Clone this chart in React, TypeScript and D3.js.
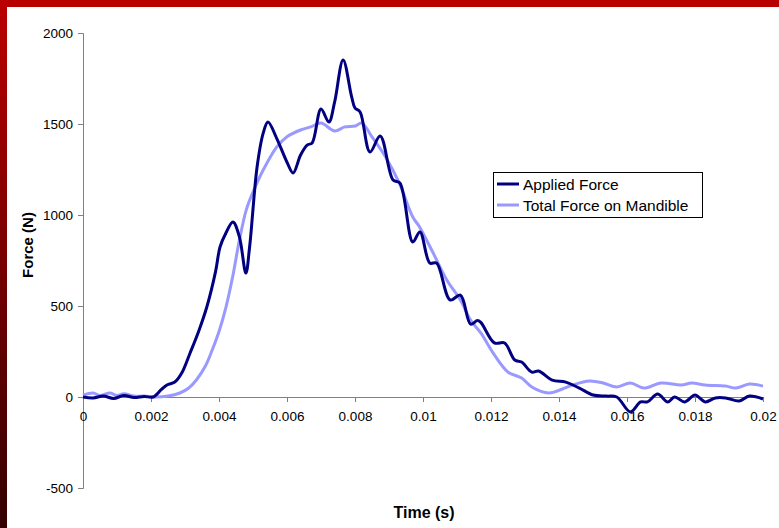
import React, { useEffect, useRef } from 'react';
import * as d3 from 'd3';

// time (s) for each reading of the applied force
const appliedTime = [
  0, 0.0003, 0.0006, 0.0009, 0.0012, 0.0015, 0.0018, 0.00206, 0.0023, 0.00247,
  0.0027, 0.0029, 0.00315, 0.0034, 0.00365, 0.0039, 0.00403, 0.0042, 0.00441, 0.0046,
  0.00479, 0.0049, 0.00512, 0.0053, 0.00544, 0.0057, 0.006, 0.00618, 0.0064, 0.0066,
  0.00674, 0.007, 0.00723, 0.0074, 0.00765, 0.0079, 0.008, 0.00815, 0.00844, 0.00874,
  0.00912, 0.00932, 0.0097, 0.00991, 0.0102, 0.0104, 0.0108, 0.0111, 0.0114, 0.0116,
  0.0117, 0.0121, 0.0124, 0.0127, 0.0129, 0.0132, 0.0134, 0.0138, 0.0142, 0.0146,
  0.015, 0.0154, 0.0157, 0.0161, 0.0164, 0.0166, 0.0169, 0.0172, 0.0174, 0.0177,
  0.018, 0.0183, 0.0186, 0.0189, 0.0193, 0.0196, 0.02
];
const appliedForce = [
  0, -5, 5, -8, 8, -3, 3, 0, 40, 66,
  82, 130, 242, 360, 500, 690, 824, 900, 962, 880,
  681, 824, 1264, 1450, 1511, 1420, 1290, 1231, 1330, 1385,
  1396, 1582, 1511, 1620, 1852, 1650, 1588, 1566, 1346, 1434,
  1192, 1176, 852, 907, 736, 736, 533, 560, 400, 420,
  410, 297, 297, 203, 192, 137, 143, 93, 82, 49,
  11, 5, 0, -82, -27, -27, 16, -27, 0, -27,
  11, -27, -5, -5, -22, 5, -11
];

// time (s) for each reading of the total force on the mandible
const totalTime = [
  0, 0.0003, 0.0005, 0.0008, 0.001, 0.0012, 0.0015, 0.0018, 0.0021, 0.0025,
  0.00285, 0.0031, 0.00334, 0.0036, 0.0038, 0.004, 0.0042, 0.0044, 0.0046, 0.0048,
  0.005, 0.0053, 0.0057, 0.006, 0.0064, 0.0067, 0.007, 0.0074, 0.0077, 0.008,
  0.0082, 0.0085, 0.0089, 0.0093, 0.0097, 0.0099, 0.0103, 0.0107, 0.0111, 0.0114,
  0.0117, 0.0121, 0.0125, 0.0129, 0.0132, 0.0137, 0.0141, 0.0144, 0.0149, 0.0153,
  0.0157, 0.0161, 0.0165, 0.017, 0.0176, 0.0179, 0.0183, 0.0189, 0.0192, 0.0196,
  0.02
];
const totalForce = [
  10, 22, 8, 22, 8, 18, 5, 5, 0, 5,
  22, 48, 95, 170, 258, 360, 490, 659, 862, 1027,
  1126, 1247, 1374, 1430, 1467, 1484, 1505, 1462, 1484, 1489,
  1505, 1429, 1319, 1176, 989, 934, 791, 643, 533, 423,
  352, 231, 137, 104, 55, 22, 44, 66, 88, 77,
  55, 77, 49, 77, 66, 77, 66, 60, 49, 71,
  60
];

const xTicks = [0, 0.002, 0.004, 0.006, 0.008, 0.01, 0.012, 0.014, 0.016, 0.018, 0.02];
const yTicks = [-500, 0, 500, 1000, 1500, 2000];
const seriesNames = ['Applied Force', 'Total Force on Mandible'];
const seriesColors = ['#000080', '#9999ff'];

const App = () => {
  const svgRef = useRef(null);

  useEffect(() => {
    const width = 779;
    const height = 528;
    const svg = d3.select(svgRef.current);
    svg.selectAll('*').remove();
    svg.attr('width', width).attr('height', height);

    const font = 'Liberation Sans, Arial, sans-serif';

    // red frame: gradient down the left side, solid along the top
    const grad = svg.append('defs').append('linearGradient')
      .attr('id', 'frameGrad')
      .attr('x1', 0).attr('y1', 0).attr('x2', 0).attr('y2', 1);
    grad.append('stop').attr('offset', '0%').attr('stop-color', '#bb0000');
    grad.append('stop').attr('offset', '100%').attr('stop-color', '#330000');

    svg.append('rect').attr('width', width).attr('height', height).attr('fill', '#fff');
    svg.append('rect').attr('x', 0).attr('y', 0).attr('width', 7).attr('height', height)
      .attr('fill', 'url(#frameGrad)');
    svg.append('rect').attr('x', 0).attr('y', 0).attr('width', width).attr('height', 7)
      .attr('fill', '#b80000');

    const x = d3.scaleLinear().domain([0, 0.02]).range([83, 763]);
    const y = d3.scaleLinear().domain([-500, 2000]).range([488, 33]);

    // y axis
    const yAxis = svg.append('g')
      .attr('transform', `translate(${x(0)},0)`)
      .call(d3.axisLeft(y).tickValues(yTicks).tickSize(5).tickPadding(5).tickFormat(d => String(d)));
    yAxis.select('.domain').attr('stroke', '#808080');
    yAxis.selectAll('.tick line').attr('stroke', '#808080');
    yAxis.selectAll('text').attr('font-family', font).attr('font-size', 13.5).attr('fill', '#000');

    // x axis through zero
    const xAxis = svg.append('g')
      .attr('transform', `translate(0,${y(0)})`)
      .call(d3.axisBottom(x).tickValues(xTicks).tickSize(5).tickPadding(9).tickSizeOuter(0)
        .tickFormat(d => String(+d)));
    xAxis.select('.domain').attr('stroke', '#808080');
    xAxis.selectAll('.tick line').attr('stroke', '#808080');
    xAxis.selectAll('text').attr('font-family', font).attr('font-size', 13.5).attr('fill', '#000');

    const line = d3.line()
      .x(d => x(d[0]))
      .y(d => y(d[1]))
      .curve(d3.curveCatmullRom.alpha(0.5));

    const totalData = totalTime.map((t, i) => [t, totalForce[i]]);
    const appliedData = appliedTime.map((t, i) => [t, appliedForce[i]]);

    svg.append('path').datum(totalData)
      .attr('d', line).attr('fill', 'none')
      .attr('stroke', seriesColors[1]).attr('stroke-width', 3).attr('stroke-linejoin', 'round');
    svg.append('path').datum(appliedData)
      .attr('d', line).attr('fill', 'none')
      .attr('stroke', seriesColors[0]).attr('stroke-width', 3).attr('stroke-linejoin', 'round');

    // axis titles
    svg.append('text')
      .attr('x', 424).attr('y', 518)
      .attr('text-anchor', 'middle')
      .attr('font-family', font).attr('font-size', 16).attr('font-weight', 'bold')
      .text('Time (s)');
    svg.append('text')
      .attr('transform', 'translate(33,245) rotate(-90)')
      .attr('text-anchor', 'middle')
      .attr('font-family', font).attr('font-size', 15).attr('font-weight', 'bold')
      .text('Force (N)');

    // legend
    const legend = svg.append('g');
    legend.append('rect')
      .attr('x', 493.5).attr('y', 172.5).attr('width', 209).attr('height', 45)
      .attr('fill', '#fff').attr('stroke', '#000').attr('stroke-width', 1);
    seriesNames.forEach((name, i) => {
      const ly = 184 + i * 21;
      legend.append('line')
        .attr('x1', 497).attr('x2', 519).attr('y1', ly).attr('y2', ly)
        .attr('stroke', seriesColors[i]).attr('stroke-width', 3);
      legend.append('text')
        .attr('x', 523).attr('y', ly + 5.5)
        .attr('font-family', font).attr('font-size', 15.5)
        .text(name);
    });
  }, []);

  return (
    <div style={{ position: 'absolute', left: 0, top: 0 }}>
      <svg ref={svgRef}></svg>
    </div>
  );
};

export default App;
